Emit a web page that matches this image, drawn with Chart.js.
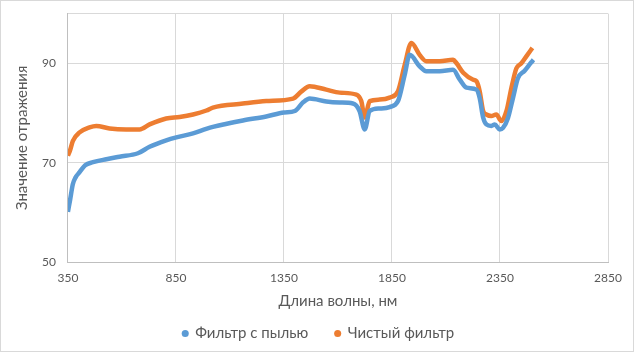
<!DOCTYPE html>
<html>
<head>
<meta charset="utf-8">
<script src="https://cdn.jsdelivr.net/npm/chart.js@4"></script>
<style>
  html, body { margin: 0; padding: 0; background: #fff; }
  #wrap { width: 634px; height: 352px; box-sizing: border-box; border: 1px solid #d9d9d9; }
</style>
</head>
<body>
<div id="wrap"><canvas id="myChart" width="632" height="350"></canvas></div>
<script>
// Фильтр с пылью
const dustX = [350, 360, 373, 385, 404, 430, 466, 528, 589, 674, 728, 805, 852, 929, 990, 1021, 1160, 1268, 1350, 1400, 1440, 1469, 1546, 1608, 1669, 1700, 1724, 1747, 1793, 1839, 1878, 1909, 1932, 1978, 2009, 2071, 2133, 2164, 2195, 2241, 2256, 2272, 2287, 2310, 2326, 2349, 2364, 2387, 2410, 2433, 2464, 2495, 2505];
const dustY = [60.1, 62.5, 65.7, 67, 68.1, 69.5, 70.1, 70.7, 71.2, 71.9, 73.2, 74.5, 75.1, 75.9, 76.8, 77.2, 78.5, 79.3, 80.1, 80.4, 82.2, 82.9, 82.3, 82.1, 81.9, 80.4, 76.7, 80.4, 80.9, 81.2, 82.4, 87.7, 91.7, 89.4, 88.4, 88.4, 88.7, 86.7, 85.1, 84.7, 83, 79.1, 77.7, 77.4, 77.7, 76.7, 77, 79, 83, 87, 88.5, 90.2, 90.7];

// Чистый фильтр
const cleanX = [350, 360, 373, 404, 450, 481, 543, 620, 682, 728, 805, 867, 929, 991, 1021, 1160, 1268, 1392, 1430, 1469, 1546, 1608, 1685, 1708, 1724, 1747, 1793, 1839, 1878, 1909, 1940, 1978, 2009, 2071, 2133, 2149, 2180, 2226, 2241, 2256, 2272, 2287, 2310, 2333, 2356, 2380, 2403, 2426, 2449, 2472, 2500];
const cleanY = [71.4, 72.5, 74.4, 76.1, 77.1, 77.4, 76.9, 76.7, 76.7, 77.7, 78.9, 79.2, 79.7, 80.5, 81.1, 81.9, 82.4, 82.9, 84.3, 85.4, 84.7, 84.1, 83.7, 82.4, 79.1, 82.4, 82.7, 83.1, 84.4, 89.7, 94.1, 91.7, 90.4, 90.4, 90.7, 90, 88.1, 86.7, 86.4, 84.4, 80.4, 79.7, 79.4, 79.7, 78.4, 80.4, 85.1, 89, 90, 91.4, 93.1];

const xTicks = [350, 850, 1350, 1850, 2350, 2850];
const yTicks = [50, 70, 90, 100];

function toPoints(xs, ys) {
  return xs.map((x, i) => ({ x: x, y: ys[i] }));
}

document.addEventListener('DOMContentLoaded', function() {
  const ctx = document.getElementById('myChart');
  const font = 'Lato';
  const grey = '#595959';

  new Chart(ctx, {
    type: 'line',
    data: {
      datasets: [{
        label: 'Фильтр с пылью',
        data: toPoints(dustX, dustY),
        borderColor: '#5B9BD5',
        backgroundColor: '#5B9BD5',
        borderWidth: 4.5,
        pointRadius: 0,
        pointStyle: 'circle',
        cubicInterpolationMode: 'monotone'
      },
      {
        label: 'Чистый фильтр',
        data: toPoints(cleanX, cleanY),
        borderColor: '#ED7D31',
        backgroundColor: '#ED7D31',
        borderWidth: 4.5,
        pointRadius: 0,
        pointStyle: 'circle',
        cubicInterpolationMode: 'monotone'
      }]
    },
    options: {
      responsive: false,
      animation: false,
      layout: { padding: { top: 0, right: 3, left: 6, bottom: 0 } },
      plugins: {
        legend: {
          position: 'bottom',
          labels: {
            usePointStyle: true,
            boxWidth: 5,
            boxHeight: 5,
            padding: 27,
            color: grey,
            font: { family: font, size: 15 },
            generateLabels: function(chart) {
              return Chart.defaults.plugins.legend.labels.generateLabels(chart).map(l => {
                l.lineWidth = 0;
                return l;
              });
            }
          }
        },
        tooltip: { enabled: false }
      },
      scales: {
        x: {
          type: 'linear',
          min: 350,
          max: 2850,
          afterBuildTicks: s => { s.ticks = xTicks.map(v => ({ value: v })); },
          afterFit: s => { s.paddingRight = 25; },
          grid: { color: '#d9d9d9', drawTicks: false, tickLength: 0 },
          border: { color: '#bfbfbf' },
          ticks: { color: grey, padding: 9, font: { family: font, size: 12 }, maxRotation: 0, callback: v => String(v) },
          title: { display: true, text: 'Длина волны, нм', color: grey, font: { family: font, size: 15 }, padding: { top: -2.5, bottom: -11 } }
        },
        y: {
          min: 50,
          max: 100,
          afterBuildTicks: s => { s.ticks = yTicks.map(v => ({ value: v })); },
          grid: { color: '#d9d9d9', drawTicks: false, tickLength: 0 },
          border: { color: '#bfbfbf' },
          ticks: {
            color: grey,
            padding: 12,
            font: { family: font, size: 12, lineHeight: 0.1 },
            callback: v => (v === 100 ? '' : String(v))
          },
          title: { display: true, text: 'Значение отражения', color: grey, font: { family: font, size: 15 }, padding: { top: 6, bottom: -1 } }
        }
      }
    }
  });
});
</script>
</body>
</html>
